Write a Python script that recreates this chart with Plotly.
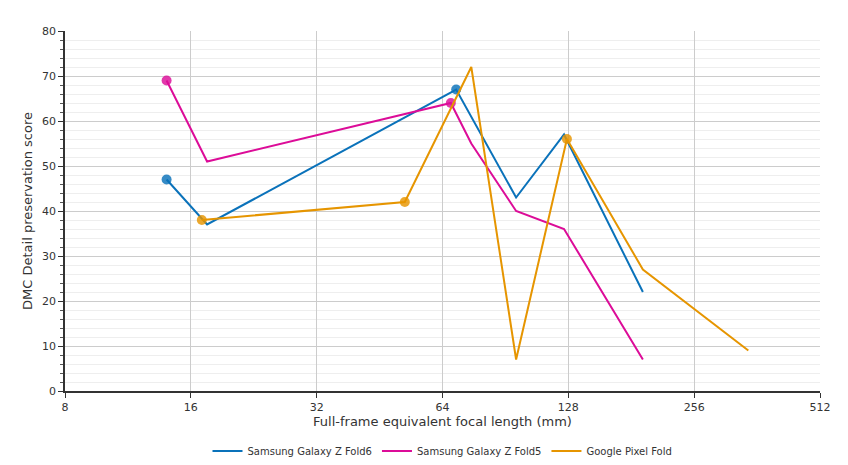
import plotly.graph_objects as go

# focal lengths (mm, full-frame equiv) and DMC detail preservation scores
fold6_x = [14, 17.5, 69, 96, 125, 193]
fold6_y = [47, 37, 67, 43, 57, 22]
fold6_native_x = [14, 69]
fold6_native_y = [47, 67]

fold5_x = [14, 17.5, 67, 75, 96, 125, 193]
fold5_y = [69, 51, 64, 55, 40, 36, 7]
fold5_native_x = [14, 67]
fold5_native_y = [69, 64]

pixel_x = [17, 52, 75, 96, 127, 193, 345]
pixel_y = [38, 42, 72, 7, 56, 27, 9]
pixel_native_x = [17, 52, 127]
pixel_native_y = [38, 42, 56]

series = [
    ("Samsung Galaxy Z Fold6", fold6_x, fold6_y, fold6_native_x, fold6_native_y, "#0a72ba"),
    ("Samsung Galaxy Z Fold5", fold5_x, fold5_y, fold5_native_x, fold5_native_y, "#dc0c98"),
    ("Google Pixel Fold", pixel_x, pixel_y, pixel_native_x, pixel_native_y, "#e69500"),
]

x_ticks = [8, 16, 32, 64, 128, 256, 512]

fig = go.Figure()
for name, xs, ys, nx, ny, col in series:
    fig.add_trace(go.Scatter(x=xs, y=ys, mode="lines", name=name,
                             line=dict(color=col, width=2)))
    fig.add_trace(go.Scatter(x=nx, y=ny, mode="markers", showlegend=False,
                             marker=dict(color=col, size=10, opacity=0.82),
                             hoverinfo="skip"))

font = "DejaVu Sans, Verdana, sans-serif"
# page body adds an 8px offset, so margins are trimmed to land the plot where the reference has it
fig.update_layout(
    width=840, height=457,
    paper_bgcolor="white", plot_bgcolor="white",
    margin=dict(l=57, r=28, t=23, b=74, autoexpand=False),
    font=dict(family=font, size=11, color="#333"),
    legend=dict(orientation="h", x=0.5, xanchor="center", y=-0.167, yanchor="middle",
                font=dict(size=10, color="#333"), itemwidth=30),
    xaxis=dict(
        type="log", range=[0.90309, 2.70927], automargin=False,
        tickvals=x_ticks, ticktext=[str(v) for v in x_ticks],
        showgrid=True, gridcolor="#cccccc", gridwidth=1,
        showline=True, linecolor="#333", linewidth=1.5,
        ticks="outside", ticklen=5, tickcolor="#333",
        title=dict(text="Full-frame equivalent focal length (mm)", standoff=4),
        zeroline=False,
    ),
    yaxis=dict(
        range=[0, 80], dtick=10, automargin=False,
        showgrid=True, gridcolor="#cccccc", gridwidth=1,
        showline=True, linecolor="#333", linewidth=1.5,
        ticks="outside", ticklen=5, tickcolor="#333",
        minor=dict(dtick=2, showgrid=True, gridcolor="#eeeeee",
                   ticks="outside", ticklen=3, tickcolor="#555"),
        title=dict(text="DMC Detail preservation score", standoff=6),
        zeroline=False,
    ),
)

fig.write_html("out.html")
